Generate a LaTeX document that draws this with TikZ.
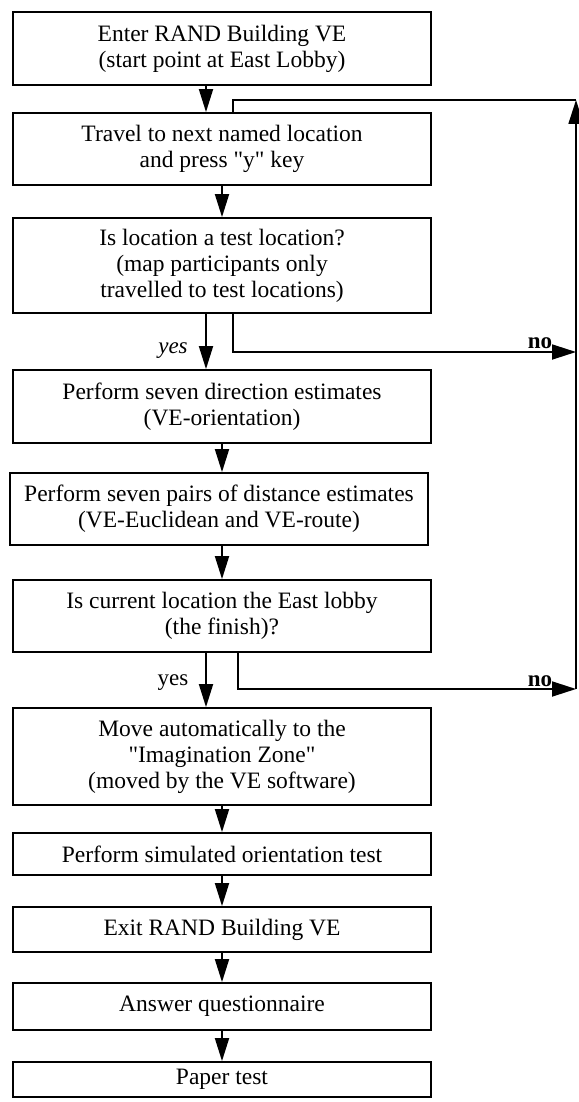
\documentclass[tikz,border=0pt]{standalone}
\usepackage{fontspec}
\setmainfont{Liberation Serif}
\usetikzlibrary{arrows.meta}
\begin{document}
\begin{tikzpicture}[x=1pt,y=-1pt,
  box/.style={draw, line width=1.8pt, rectangle, minimum width=418pt, inner sep=0pt, align=center, font=\fontsize{23.5}{26}\selectfont},
  arr/.style={line width=1.8pt, -{Triangle[length=23pt,width=14pt]}},
  sidearr/.style={line width=1.8pt, -{Triangle[length=24pt,width=15pt]}},
  conn/.style={line width=1.8pt},
  lbl/.style={font=\fontsize{23}{26}\selectfont, inner sep=0pt, anchor=base}]
\useasboundingbox (0,0) rectangle (578,1102);
\node[box, minimum height=73pt] (b1) at (222,48.5) {Enter RAND Building VE\\(start point at East Lobby)};
\node[box, minimum height=72pt] (b2) at (222,149) {Travel to next named location\\and press \textquotedbl y\textquotedbl\ key};
\node[box, minimum height=95pt] (b3) at (222,265.5) {Is location a test location?\\(map participants only\\travelled to test locations)};
\node[box, minimum height=73pt] (b4) at (222,406.5) {Perform seven direction estimates\\(VE-orientation)};
\node[box, minimum height=72pt] (b5) at (219,509) {Perform seven pairs of distance estimates\\(VE-Euclidean and VE-route)};
\node[box, minimum height=72pt] (b6) at (222,616) {Is current location the East lobby\\(the finish)?};
\node[box, minimum height=97pt] (b7) at (222,756.5) {Move automatically to the\\\textquotedbl Imagination Zone\textquotedbl\\(moved by the VE software)};
\node[box, minimum height=42pt] (b8) at (222,854) {Perform simulated orientation test};
\node[box, minimum height=45pt] (b9) at (222,929.5) {Exit RAND Building VE};
\node[box, minimum height=47pt] (b10) at (222,1006.5) {Answer questionnaire};
\node[box, minimum height=35pt] (b11) at (222,1079.5) {Paper test};
\coordinate (r1) at (576,352);
\coordinate (r2) at (576,689);
\coordinate (rtop) at (576,100);
% main flow
\draw[arr] ([xshift=-16pt]b1.south) -- ([xshift=-16pt]b2.north);
\draw[arr] (b2.south) -- (b3.north);
\draw[arr] ([xshift=-16pt]b3.south) -- ([xshift=-16pt]b4.north);
\draw[arr] (b4.south) -- (b4.south |- b5.north);
\draw[arr] (b6.north |- b5.south) -- (b6.north);
\draw[arr] ([xshift=-16pt]b6.south) -- ([xshift=-16pt]b7.north);
\draw[arr] (b7.south) -- (b8.north);
\draw[arr] (b8.south) -- (b9.north);
\draw[arr] (b9.south) -- (b10.north);
\draw[arr] (b10.south) -- (b11.north);
% no branches and loop back
\draw[sidearr] ([xshift=11pt]b3.south) |- (r1);
\draw[sidearr] ([xshift=16pt]b6.south) |- (r2);
\draw[sidearr] (r2) -- (rtop);
\draw[conn] (rtop) -| ([xshift=11pt]b2.north);
% labels
\node[lbl] (yes1) at (173,353) {\itshape yes};
\node[lbl] (yes2) at (173,685) {yes};
\node[lbl] (no1) at (540,348) {\bfseries no};
\node[lbl] (no2) at (540,686) {\bfseries no};
\end{tikzpicture}
\end{document}
